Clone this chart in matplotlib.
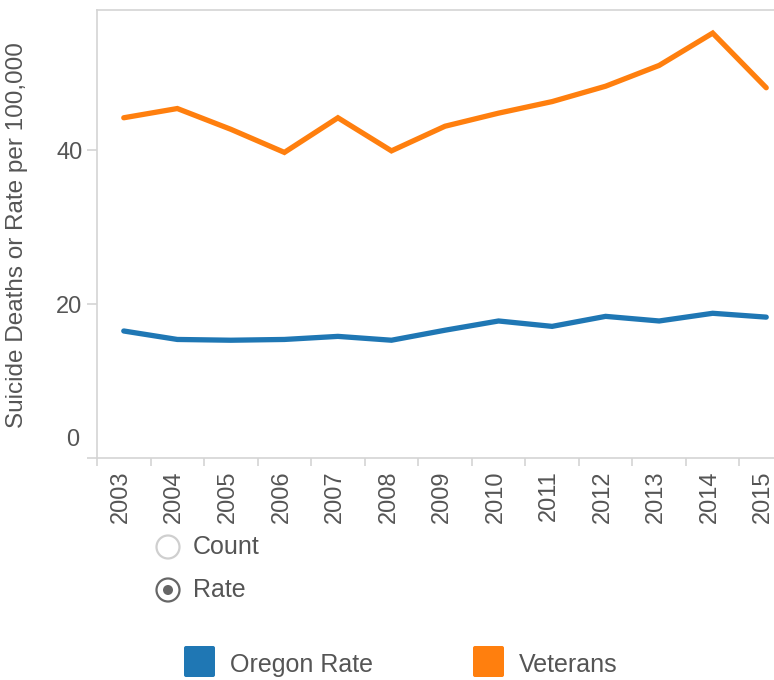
import numpy as np
import matplotlib
matplotlib.use("Agg")
import matplotlib.pyplot as plt
import matplotlib.transforms as mtransforms
from matplotlib.patches import Circle, FancyBboxPatch

plt.rcParams['font.family'] = ['Liberation Sans', 'DejaVu Sans']

# data
years = [str(y) for y in range(2003, 2016)]
oregon_rate = [16.5, 15.4, 15.3, 15.4, 15.8, 15.3, 16.6, 17.8, 17.1, 18.4, 17.8, 18.8, 18.3]
veterans = [44.2, 45.4, 42.7, 39.7, 44.2, 39.9, 43.1, 44.8, 46.3, 48.3, 51.0, 55.2, 48.1]
y_ticks = [0, 20, 40]

BLUE = '#1f77b4'
ORANGE = '#ff7f0e'
GRID = '#d4d4d4'
TXT = '#555555'
FS_TICK = 17
FS_TXT = 18

W, H = 774, 680
fig = plt.figure(figsize=(W / 100, H / 100), dpi=100)

# plot area: left 97px, top 10px, bottom 458px, right beyond the image (clipped like the screenshot)
left, right, top, bottom = 97, 793, 10, 458
ax = fig.add_axes([left / W, 1 - bottom / H, (right - left) / W, (bottom - top) / H])

x = np.arange(len(years))
ax.plot(x, oregon_rate, color=BLUE, lw=3.8, solid_joinstyle='miter', solid_capstyle='round')
ax.plot(x, veterans, color=ORANGE, lw=3.8, solid_joinstyle='miter', solid_capstyle='round')

ax.set_xlim(-0.5, len(years) - 0.5)
ax.set_ylim(0, 58.2)

for s in ax.spines.values():
    s.set_color(GRID)
    s.set_linewidth(1.2)

# y ticks
ax.set_yticks(y_ticks)
ax.set_yticklabels(['' if v == 0 else str(v) for v in y_ticks])
ax.tick_params(axis='y', length=7.5, width=1.2, color=GRID, labelsize=FS_TICK, labelcolor=TXT, pad=3)
ax.annotate('0', xy=(0, 0), xycoords=('axes fraction', 'data'), xytext=(-13, 13),
            textcoords='offset points', ha='right', va='center', fontsize=FS_TICK, color=TXT)

# x ticks: labels at centres, tick marks at band edges
ax.set_xticks(x)
ax.set_xticklabels(years, rotation=90, fontsize=FS_TICK, color=TXT)
ax.tick_params(axis='x', which='major', length=0, pad=9)
ax.set_xticks(np.arange(len(years) + 1) - 0.5, minor=True)
ax.tick_params(axis='x', which='minor', length=6, width=1.2, color=GRID)
shift = mtransforms.ScaledTranslation(-3 / 100, 0, fig.dpi_scale_trans)
for lab in ax.get_xticklabels():
    lab.set_transform(lab.get_transform() + shift)

ax.set_ylabel('Suicide Deaths or Rate per 100,000', fontsize=FS_TICK + 0.5, color=TXT)
ax.yaxis.set_label_coords(-(left - 28) / (right - left), (bottom - 235) / (bottom - top))

# overlay in pixel coordinates for the radio buttons and legend
ov = fig.add_axes([0, 0, 1, 1])
ov.set_xlim(0, W)
ov.set_ylim(H, 0)
ov.axis('off')
ov.patch.set_alpha(0)

ov.add_patch(Circle((168, 547), 11.5, fill=False, ec='#cfcfcf', lw=1.6))
ov.text(193, 547, 'Count', fontsize=FS_TXT, color=TXT, va='center', ha='left')
ov.add_patch(Circle((168, 590), 11.5, fill=False, ec='#666666', lw=1.6))
ov.add_patch(Circle((168, 590), 5, fc='#666666', ec='none'))
ov.text(193, 590, 'Rate', fontsize=FS_TXT, color=TXT, va='center', ha='left')

for (x0, label, col) in [(183, 'Oregon Rate', BLUE), (472, 'Veterans', ORANGE)]:
    ov.add_patch(FancyBboxPatch((x0 + 1, 646), 31, 31, boxstyle='round,pad=0,rounding_size=2',
                                fc=col, ec='none'))
    ov.text(x0 + 47, 665, label, fontsize=FS_TXT, color=TXT, va='center', ha='left')

fig.savefig('out.png', dpi=100)
